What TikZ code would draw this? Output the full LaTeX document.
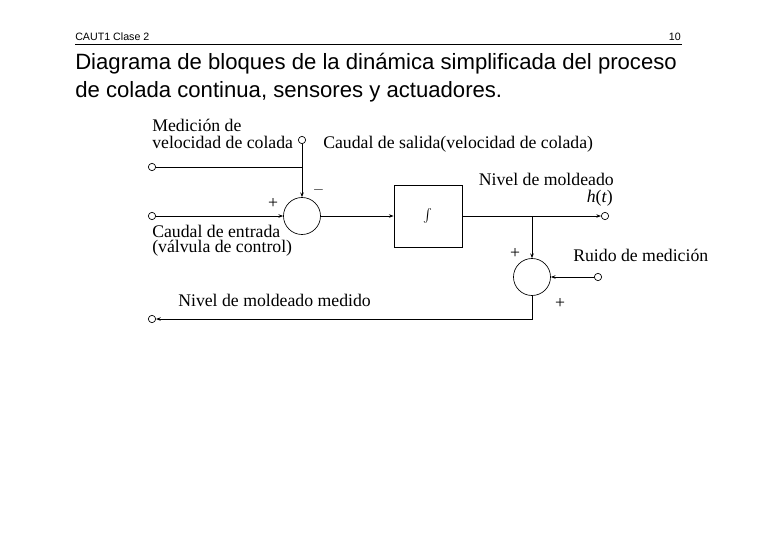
\documentclass[tikz,border=0pt]{standalone}
\usepackage{fontspec}
\setmainfont{Liberation Serif}
\setsansfont{Liberation Sans}
\usetikzlibrary{positioning, arrows.meta, calc}

\begin{document}
\begin{tikzpicture}[
  x=0.75pt, y=-0.75pt, >={Stealth[length=3.5pt,width=2.6pt]},
  every node/.style={inner sep=0pt},
  lbl/.style    = {font=\fontsize{13.3}{15}\selectfont},
  hdr/.style    = {font=\sffamily\fontsize{8}{9}\selectfont},
  ttl/.style    = {font=\sffamily\fontsize{16.6}{20}\selectfont},
  port/.style   = {circle, draw, minimum size=5.5pt, line width=0.5pt},
  sumnode/.style= {circle, draw, minimum size=27.75pt, line width=0.5pt},
  blk/.style    = {draw, minimum width=51pt, minimum height=46.5pt, line width=0.6pt},
  wire/.style   = {line width=0.6pt},
]
\useasboundingbox (0,0) rectangle (758,536);
% page header and title
\node[hdr, anchor=base west] (hleft)  at (75,40)  {CAUT1 Clase 2};
\node[hdr, anchor=base east] (hright) at (681,40) {10};
\coordinate (rl) at (75,44.3);
\coordinate (rr) at (682,44.3);
\draw[line width=0.6pt] (rl) -- (rr);
\node[ttl, anchor=base west] (t1) at (75,69.5)
  {Diagrama de bloques de la dinámica simplificada del proceso};
\node[ttl, anchor=base west] (t2) at (75,97.5)
  {de colada continua, sensores y actuadores.};

% blocks
\node[port]    (pvel) at (152,167) {};
\node[port]    (pin)  at (152,216) {};
\node[port]    (pout) at (302,140) {};
\node[sumnode] (s1)   at (302,216) {};
\node[blk]     (integ)at (428,216) {$\int$};
\node[port]    (ph)   at (605,216) {};
\node[sumnode] (s2)   at (532,277) {};
\node[port]    (pn)   at (598,277) {};
\node[port]    (pmed) at (152,319) {};
\coordinate (jn)  at (302,167);
\coordinate (br)  at (532,216);
\coordinate (cor) at (532,319);

% wires
\draw[wire] (pvel) -- (jn);
\draw[wire,->] (pout) -- (s1);
\draw[wire,->] (pin) -- (s1);
\draw[wire,->] (s1) -- (integ);
\draw[wire,->] (integ) -- (ph);
\draw[wire,->] (br) -- (s2);
\draw[wire,->] (pn) -- (s2);
\draw[wire,->] (s2) -- (cor) -- (pmed);

% labels
\node[lbl, anchor=base west] (l1a) at (152,131.5) {Medición de};
\node[lbl, anchor=base west] (l1b) at (152,148.5) {velocidad de colada};
\node[lbl, anchor=base west] (l2)  at (323,148.5) {Caudal de salida(velocidad de colada)};
\node[lbl, anchor=base west] (l3a) at (152,237) {Caudal de entrada};
\node[lbl, anchor=base west] (l3b) at (152,252.5) {(válvula de control)};
\node[lbl, anchor=base east] (l4)  at (614,185) {Nivel de moldeado};
\node[lbl, anchor=base east] (l5)  at (613,202) {\textit{h}(\textit{t})};
\node[lbl, anchor=base west] (l6)  at (573,261.5) {Ruido de medición};
\node[lbl, anchor=base west] (l7)  at (178,306) {Nivel de moldeado medido};
% signs
\node[lbl] (sg1) at (273,203) {+};
\node[font=\fontsize{10.5}{12}\selectfont, anchor=base] (sg2) at (318.5,193.5) {$-$};
\node[lbl] (sg3) at (515,253) {+};
\node[lbl] (sg4) at (560,303) {+};
\end{tikzpicture}
\end{document}
